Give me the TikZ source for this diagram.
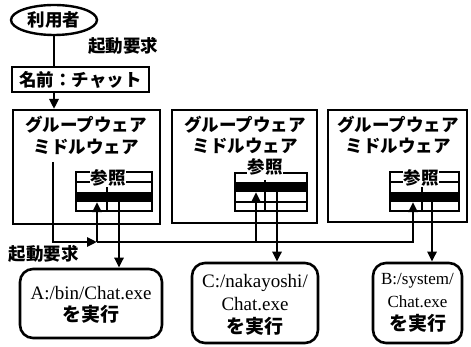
\documentclass[tikz,border=0pt]{standalone}
\usepackage{fontspec}
\setmainfont{Liberation Serif}
\newfontfamily\jp{Noto Sans CJK JP}
\usetikzlibrary{shapes.geometric,arrows.meta}
\begin{document}
\begin{tikzpicture}[x=1pt,y=-1pt,
  jpf/.style={font=\jp\bfseries\fontsize{17.5}{20}\selectfont,inner sep=0.5pt},
  gwbox/.style={draw,line width=2pt,inner sep=0},
  tbl/.style={draw,line width=1.6pt,inner sep=0},
  tl/.style={line width=1.6pt},
  band/.style={fill=black,inner sep=0},
  arr/.style={line width=2.6pt,-{Triangle[length=10pt,width=9pt]}},
  ln/.style={line width=2.6pt},
  bnode/.style={draw,line width=2.6pt,rounded corners=13pt,align=center,inner sep=0}]
\useasboundingbox (0,0) rectangle (471,347);

% top part
\node[draw,ellipse,line width=2.4pt,minimum width=86pt,minimum height=30pt,jpf] (user) at (54,20) {利用者};
\node[jpf] (req1) at (123,46) {起動要求};
\node[draw,line width=2.4pt,minimum width=137pt,minimum height=25pt,jpf] (name) at (80.5,79.5) {名前：チャット};

% groupware boxes
\node[gwbox,minimum width=147pt,minimum height=114pt] (gw1) at (86.5,167) {};
\node[gwbox,minimum width=145pt,minimum height=113pt] (gw2) at (244.5,166.5) {};
\node[gwbox,minimum width=139pt,minimum height=112pt] (gw3) at (397.5,166) {};

\draw[ln] (user.south) -- (user.south |- name.north);
\draw[arr] (user.south |- name.south) -- (user.south |- gw1.north);

\node[jpf] (t1a) at (86,125) {グループウェア};
\node[jpf] (t1b) at (86,147) {ミドルウェア};
\node[jpf] (t2a) at (245,125) {グループウェア};
\node[jpf] (t2b) at (245,146) {ミドルウェア};
\node[jpf] (t3a) at (398,125) {グループウェア};
\node[jpf] (t3b) at (398,146) {ミドルウェア};

% table 1
\node[tbl,minimum width=76pt,minimum height=39pt] (tb1) at (114,191.5) {};
\draw[tl] (76,182) -- (152,182);
\node[band,minimum width=76pt,minimum height=10pt] (bk1) at (114,197) {};
\draw[tl] (107,182) -- (107,211);
\node[jpf,fill=white] (r1) at (108,178) {参照};

% table 2
\node[tbl,minimum width=72pt,minimum height=38pt] (tb2) at (271,192) {};
\node[band,minimum width=72pt,minimum height=10pt] (bk2) at (271,187) {};
\draw[tl] (235,202) -- (307,202);
\draw[tl] (265,180) -- (265,211);
\node[jpf,fill=white] (r2) at (265,167) {参照};

% table 3
\node[tbl,minimum width=69pt,minimum height=39pt] (tb3) at (424.5,191.5) {};
\draw[tl] (390,182) -- (459,182);
\node[band,minimum width=69pt,minimum height=10pt] (bk3) at (424.5,197) {};
\draw[tl] (422,182) -- (422,211);
\node[jpf,fill=white] (r3) at (421,178) {参照};

% bottom nodes
\node[bnode,minimum width=142pt,minimum height=69pt,font=\fontsize{19}{22}\selectfont] (A) at (91,303.5) {\rule{0pt}{16pt}A:/bin/Chat.exe\\{\jp\bfseries\fontsize{19}{22}\selectfont を実行}};
\node[bnode,minimum width=126pt,minimum height=80pt,font=\fontsize{19}{23}\selectfont] (C) at (255,303) {\rule{0pt}{16pt}C:/nakayoshi/\\Chat.exe\\{\jp\bfseries\fontsize{19}{23}\selectfont を実行}};
\node[bnode,minimum width=89pt,minimum height=80pt,font=\fontsize{17}{23}\selectfont] (B) at (417.5,303) {B:/system/\\Chat.exe\\{\jp\bfseries\fontsize{19}{23}\selectfont を実行}};

\node[jpf] (req2) at (44,254) {起動要求};

% connectors
\coordinate (s1) at (53,162);
\coordinate (j1) at (97,242);
\coordinate (j2) at (256,242);
\coordinate (c3) at (413,242);
\draw[arr] (s1) |- (j1);
\draw[arr] (j1) -- (j1 |- bk1.south);
\draw[arr] (j1) -- (c3) -- (c3 |- bk3.south);
\draw[arr] (j2) -- (j2 |- bk2.south);
\coordinate (d1) at (119,0);
\coordinate (d2) at (277,0);
\coordinate (d3) at (432,0);
\draw[arr] (d1 |- bk1.south) -- (d1 |- A.north);
\draw[arr] (d2 |- bk2.south) -- (d2 |- C.north);
\draw[arr] (d3 |- bk3.south) -- (d3 |- B.north);
\end{tikzpicture}
\end{document}
